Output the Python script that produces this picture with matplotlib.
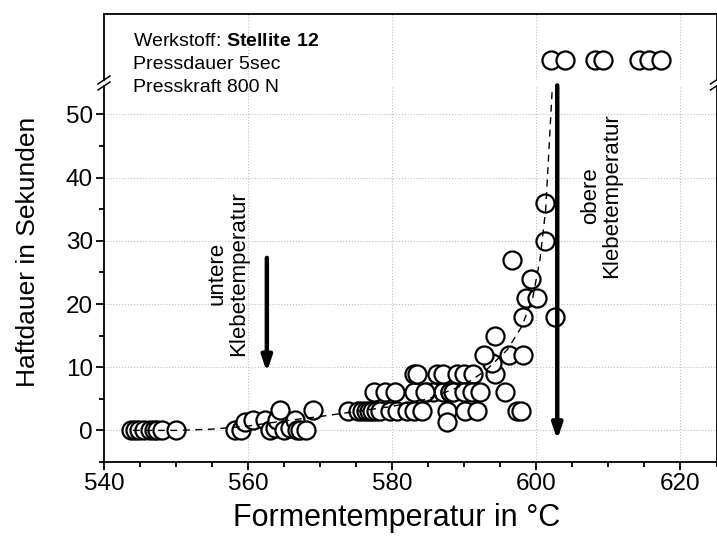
import numpy as np
import matplotlib
matplotlib.use('Agg')
import matplotlib.pyplot as plt
from matplotlib.ticker import MultipleLocator

plt.rcParams['font.family'] = ['Liberation Sans', 'DejaVu Sans']
plt.rcParams['mathtext.fontset'] = 'custom'
plt.rcParams['mathtext.rm'] = 'Liberation Sans'
plt.rcParams['mathtext.bf'] = 'Liberation Sans:bold'

# measured points (Formentemperatur, Haftdauer)
temp = [543.8, 544.3, 544.8, 545.5, 546.4, 546.9, 547.3, 548.0, 550.0,
        558.2, 559.0, 559.6, 560.7, 562.4, 563.0, 563.7, 564.0, 564.4, 565.0,
        565.8, 566.5, 566.8, 567.2, 568.1, 569.0,
        573.9, 575.3, 575.8, 576.3, 576.8, 577.2, 577.8, 578.3, 579.7, 580.6,
        582.0, 583.0, 584.1, 577.4, 579.0, 580.4, 583.0, 584.8, 585.7, 587.0, 588.0,
        583.0, 583.4, 586.2, 587.0, 587.6, 587.6,
        589.0, 590.0, 591.2, 584.5, 588.0, 588.5, 590.0, 591.0, 592.2,
        590.1, 591.8, 597.3, 597.8, 595.7, 594.3, 593.8, 592.7, 596.2, 598.2,
        594.3, 598.2, 602.6, 598.5, 600.1, 599.2, 596.6, 601.2, 601.2]
haft = [0, 0, 0, 0, 0, 0, 0, 0, 0,
        0, 0, 1.4, 1.6, 1.6, 0, 0.4, 1.6, 3.2, 0,
        0.4, 1.6, 0, 0, 0, 3.2,
        3, 3, 3, 3, 3, 3, 3, 3, 3, 3,
        3, 3, 3, 6, 6, 6, 6, 6, 6, 6, 6,
        9, 9, 9, 9, 3, 1.4,
        9, 9, 9, 6, 6, 6, 6, 6, 6,
        3, 3, 3, 3, 6, 9, 10.6, 12, 12, 12,
        15, 18, 18, 21, 21, 24, 27, 30, 36]

# no sticking within the test time (shown above the axis break)
temp_none = [602.0, 604.0, 608.2, 609.3, 614.2, 615.6, 617.3]
haft_none = [100] * len(temp_none)

# dashed trend line
fit_t = [544, 550, 555, 560, 565, 570, 575, 580, 585, 590, 593, 596, 598, 599.5, 600.5, 601.3, 602.2]
fit_h = [0, 0, 0.2, 0.7, 1.5, 2.2, 3.0, 3.8, 5.0, 7.2, 9.5, 12.8, 16.5, 21, 27, 35, 54]

W, H = 717, 542
fig = plt.figure(figsize=(W / 100, H / 100), dpi=100)
left = 104 / W
width = (716.5 - 104) / W
ax = fig.add_axes([left, 1 - 462 / H, width, (462 - 86) / H])
axu = fig.add_axes([left, 1 - 80 / H, width, (80 - 14) / H])

mk = dict(marker='o', ms=13, mfc='white', mec='black', mew=1.6, ls='none', zorder=3)
ax.plot(temp, haft, **mk)
axu.plot(temp_none, haft_none, clip_on=False, **mk)
ax.plot(fit_t, fit_h, color='black', lw=1.0, ls=(0, (5, 4)), zorder=4)

ax.set_xlim(540, 625)
ax.set_ylim(-5, 54.5)
axu.set_xlim(540, 625)
axu.set_ylim(94, 114)

ax.xaxis.set_major_locator(MultipleLocator(20))
ax.xaxis.set_minor_locator(MultipleLocator(5))
ax.yaxis.set_major_locator(MultipleLocator(10))
ax.yaxis.set_minor_locator(MultipleLocator(5))
ax.tick_params(which='major', direction='out', length=6, width=1.3, labelsize=17.5, pad=2)
ax.tick_params(which='minor', direction='out', length=3.5, width=1.3)
ax.tick_params(axis='y', which='both', right=False)
ax.grid(True, which='major', ls=':', color='#bdbdbd', lw=0.8)
for s in ax.spines.values():
    s.set_linewidth(1.3)
ax.spines['top'].set_visible(False)

axu.xaxis.set_major_locator(MultipleLocator(20))
axu.tick_params(left=False, bottom=False, labelleft=False, labelbottom=False)
axu.grid(True, axis='x', ls=':', color='#bdbdbd', lw=0.8)
for s in axu.spines.values():
    s.set_linewidth(1.3)
axu.spines['bottom'].set_visible(False)

# axis break marks
for yb in (80, 86):
    for xb in (104, 716.5):
        fig.add_artist(plt.Line2D([(xb - 6) / W, (xb + 6) / W],
                                  [1 - (yb + 4) / H, 1 - (yb - 4) / H],
                                  color='black', lw=1.1))

ax.set_xlabel('Formentemperatur in °C', fontsize=22)
ax.xaxis.set_label_coords(0.477, -0.108)
ax.set_ylabel('Haftdauer in Sekunden', fontsize=19)
ax.yaxis.set_label_coords(-0.104, 0.558)

fig.text(133 / W, 1 - 46 / H, r'Werkstoff: $\mathbf{Stellite\ 12}$', fontsize=14, va='baseline')
fig.text(133 / W, 1 - 69 / H, 'Pressdauer 5sec', fontsize=14, va='baseline')
fig.text(133 / W, 1 - 92 / H, 'Presskraft 800 N', fontsize=14, va='baseline')

arrow = dict(arrowstyle='-|>,head_length=0.9,head_width=0.3', lw=3.2, color='black',
             shrinkA=0, shrinkB=0)
ax.annotate('', xy=(562.6, 9.2), xytext=(562.6, 27.3), arrowprops=arrow)
ax.annotate('', xy=(602.9, -1.5), xytext=(602.9, 54.6), arrowprops=arrow, annotation_clip=False)

ax.text(557.2, 24.8, 'untere\nKlebetemperatur', rotation=90, fontsize=16,
        ha='center', va='center', linespacing=1.0)
ax.text(609.0, 37.1, 'obere\nKlebetemperatur', rotation=90, fontsize=16,
        ha='center', va='center', linespacing=1.0)

fig.savefig('out.png', dpi=100)
